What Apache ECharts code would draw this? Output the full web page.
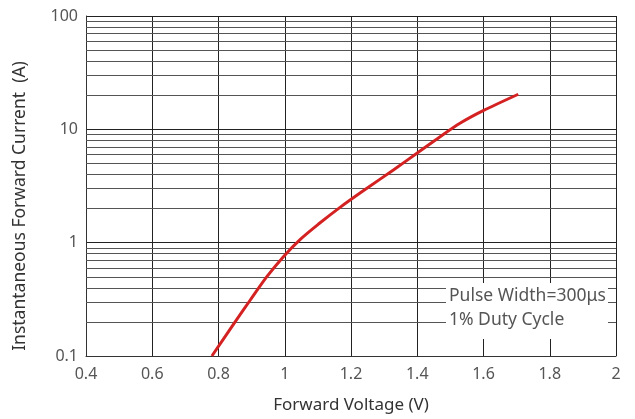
<!DOCTYPE html>
<html><head><meta charset="utf-8">
<script src="https://cdn.jsdelivr.net/npm/echarts@6/dist/echarts.min.js"></script>
<style>html,body{margin:0;padding:0;background:#fff}#c{width:635px;height:419px}</style>
</head><body><div id="c"></div>
<script>
const voltage = [0.780, 0.845, 0.896, 0.946, 0.996, 1.047, 1.102, 1.167, 1.248, 1.328, 1.399, 1.469, 1.529, 1.599, 1.705];
const current = [0.1, 0.19, 0.312, 0.501, 0.753, 1.07, 1.46, 2.05, 3.02, 4.38, 6.15, 8.6, 11.3, 14.6, 20.4];
const minorGrid = [0.2,0.3,0.4,0.5,0.6,0.7,0.8,0.9,2,3,4,5,6,7,8,9,20,30,40,50,60,70,80,90];
const noteLines = ['Pulse Width=300μs', '1% Duty Cycle'];

const font = 'Noto Sans';
const chart = echarts.init(document.getElementById('c'));
chart.setOption({
  animation: false,
  grid: {left: 86, right: 19, top: 16, bottom: 63},
  xAxis: {
    type: 'value', min: 0.4, max: 2, interval: 0.2,
    name: 'Forward Voltage (V)', nameLocation: 'middle', nameGap: 41,
    nameTextStyle: {fontFamily: font, fontSize: 17, color: '#333'},
    axisLine: {show: true, lineStyle: {color: '#333', width: 1}},
    axisTick: {show: false},
    axisLabel: {fontFamily: font, fontSize: 16, color: '#555', margin: 10,
      formatter: v => String(+v.toFixed(1))},
    splitLine: {show: true, lineStyle: {color: '#222', width: 1}}
  },
  yAxis: {
    type: 'log', logBase: 10, min: 0.1, max: 100,
    name: 'Instantaneous Forward Current  (A)', nameLocation: 'middle', nameGap: 57,
    nameTextStyle: {fontFamily: font, fontSize: 17.5, color: '#333', padding: [0, 40, 0, 0]},
    axisLine: {show: true, lineStyle: {color: '#333', width: 1}},
    axisTick: {show: false},
    axisLabel: {fontFamily: font, fontSize: 16, color: '#555', margin: 8,
      formatter: v => String(v)},
    splitLine: {show: true, lineStyle: {color: '#222', width: 1}}
  },
  series: [{
    type: 'line', smooth: 0.3, symbol: 'none',
    data: voltage.map((v, i) => [v, current[i]]),
    lineStyle: {color: '#d42222', width: 3},
    z: 5,
    markLine: {
      silent: true, symbol: 'none', label: {show: false},
      lineStyle: {color: '#555', width: 1, type: 'solid'},
      z: 1,
      data: minorGrid.map(v => ({yAxis: v}))
    }
  }],
  graphic: [
    {type: 'rect', shape: {x: 446, y: 283, width: 162, height: 56}, style: {fill: '#fff'}, z: 10},
    {type: 'text', x: 449, y: 296, style: {text: noteLines[0], fontFamily: font, fontSize: 17.5, fill: '#555', verticalAlign: 'middle'}, z: 11},
    {type: 'text', x: 449, y: 320, style: {text: noteLines[1], fontFamily: font, fontSize: 17.5, fill: '#555', verticalAlign: 'middle'}, z: 11}
  ]
});
</script></body></html>
